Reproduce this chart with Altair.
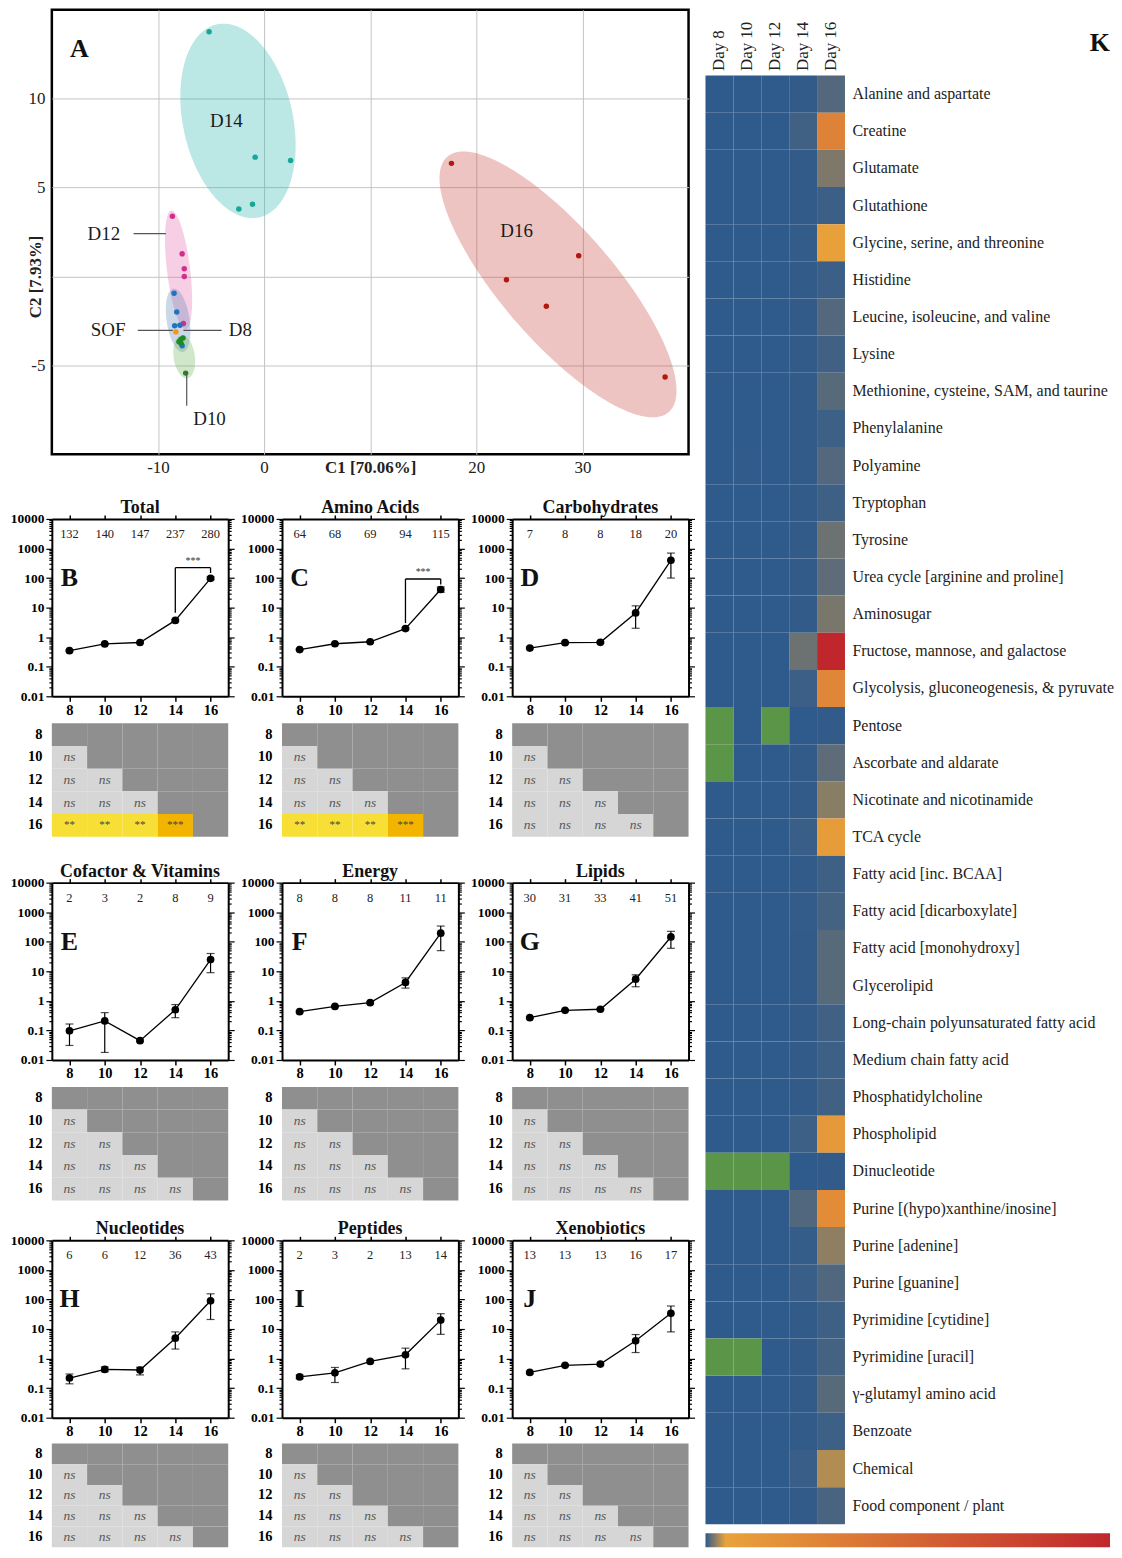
import altair as alt
import numpy as np
import pandas as pd

SERIF = "Liberation Serif"

# ---------------- Panel A : PCA scores ----------------
D16_x = [17.66, 29.65, 22.84, 26.60, 37.79]
D16_y = [6.36, 1.16, -0.19, -1.68, -5.66]
D14_x = [-5.18, -0.84, 2.50, -2.38, -1.09]
D14_y = [13.76, 6.71, 6.52, 3.79, 4.06]
D12_x = [-8.64, -7.72, -7.52, -7.52, -7.60]
D12_y = [3.38, 1.27, 0.43, 0.00, -2.65]
D8_x = [-8.48, -8.23, -8.43, -7.93, -7.72]
D8_y = [-0.95, -2.00, -2.77, -2.75, -3.90]
D10_x = [-7.85, -7.64, -8.02, -7.81, -7.39]
D10_y = [-3.55, -3.46, -3.68, -3.78, -5.44]
SOF_x = [-8.31]
SOF_y = [-3.12]

PT_GROUPS = ["D16", "D14", "D12", "D8", "D10", "SOF"]
PT_X = [D16_x, D14_x, D12_x, D8_x, D10_x, SOF_x]
PT_Y = [D16_y, D14_y, D12_y, D8_y, D10_y, SOF_y]
PT_COLORS = ["#b3170f", "#17a69a", "#d02f8c", "#1f74c2", "#1e8a26", "#f4961a"]

# confidence ellipses: centre, half-axis vector a, half-axis vector b
ELL_GROUPS = ["D16", "D14", "D12", "D8", "D10"]
ELL_CX = [27.7, -2.46, -8.06, -8.10, -7.52]
ELL_CY = [-0.45, 8.75, 0.37, -2.47, -4.52]
ELL_AX = [10.0, 1.67, 0.67, 0.42, 0.25]
ELL_AY = [-7.35, -5.46, -3.33, -1.78, -1.21]
ELL_BX = [4.97, 5.17, 1.09, 1.08, 1.00]
ELL_BY = [1.376, 0.32, 0.04, 0.05, 0.04]
ELL_COLORS = ["#c8473d", "#2ab5ad", "#e26aaf", "#5e86b3", "#71b457"]

LAB_TEXT = ["D14", "D16", "D12", "SOF", "D8", "D10"]
LAB_X = [-3.55, 23.8, -15.1, -14.7, -2.24, -5.14]
LAB_Y = [8.74, 2.58, 2.41, -3.03, -3.03, -8.0]

LEAD_X = [-12.3, -11.9, -7.6, -7.29]
LEAD_X2 = [-9.25, -8.6, -4.0, -7.29]
LEAD_Y = [2.41, -3.03, -3.03, -5.38]
LEAD_Y2 = [2.41, -3.03, -3.03, -7.28]

A_POS = [-17.4, 12.8]

# ---------------- Panels B-J ----------------
DAYS = [8, 10, 12, 14, 16]
LP_TITLES = ["Total", "Amino Acids", "Carbohydrates", "Cofactor & Vitamins", "Energy",
             "Lipids", "Nucleotides", "Peptides", "Xenobiotics"]
LP_LETTERS = ["B", "C", "D", "E", "F", "G", "H", "I", "J"]
LP_COUNTS = [
    [132, 140, 147, 237, 280],
    [64, 68, 69, 94, 115],
    [7, 8, 8, 18, 20],
    [2, 3, 2, 8, 9],
    [8, 8, 8, 11, 11],
    [30, 31, 33, 41, 51],
    [6, 6, 12, 36, 43],
    [2, 3, 2, 13, 14],
    [13, 13, 13, 16, 17],
]
LP_MEAN = [
    [0.35, 0.59, 0.66, 3.7, 98],
    [0.38, 0.60, 0.70, 1.95, 41],
    [0.43, 0.65, 0.67, 6.6, 400],
    [0.097, 0.21, 0.045, 0.50, 25],
    [0.43, 0.65, 0.87, 4.2, 195],
    [0.27, 0.48, 0.52, 5.4, 145],
    [0.22, 0.43, 0.41, 4.9, 90],
    [0.24, 0.33, 0.80, 1.34, 20],
    [0.34, 0.59, 0.65, 4.0, 34],
]
LP_LO = [
    [0.33, 0.56, 0.62, 3.4, 88],
    [0.36, 0.57, 0.66, 1.8, 33],
    [0.40, 0.60, 0.62, 2.0, 100],
    [0.031, 0.018, 0.042, 0.27, 9],
    [0.40, 0.60, 0.80, 2.7, 50],
    [0.25, 0.45, 0.49, 3.0, 60],
    [0.14, 0.36, 0.28, 2.1, 21],
    [0.21, 0.155, 0.72, 0.45, 6.6],
    [0.31, 0.55, 0.60, 1.6, 8],
]
LP_HI = [
    [0.37, 0.62, 0.70, 4.0, 110],
    [0.40, 0.63, 0.74, 2.1, 50],
    [0.46, 0.70, 0.72, 11.5, 700],
    [0.165, 0.40, 0.048, 0.75, 40],
    [0.46, 0.70, 0.94, 6.0, 340],
    [0.29, 0.51, 0.55, 7.6, 225],
    [0.30, 0.52, 0.51, 8.0, 155],
    [0.28, 0.50, 0.88, 2.25, 33],
    [0.37, 0.63, 0.70, 6.5, 60],
]
# significance brackets (panels B and C)
BRACKETS = {
    0: {"x": [14, 14, 16], "x2": [14, 16, 16], "y": [6.7, 224, 224], "y2": [224, 224, 148], "star": [15, 224]},
    1: {"x": [14, 14, 16], "x2": [14, 16, 16], "y": [3.0, 93, 93], "y2": [93, 93, 60], "star": [15, 93]},
}
LETTER_POS = [8, 100]

MAJOR = [0.01, 0.1, 1, 10, 100, 1000, 10000]
MINOR_MULT = [1, 2, 3, 4, 5, 6, 7, 8, 9]
Y_TICKS = sorted(set([m * d for d in MAJOR[:-1] for m in MINOR_MULT] + [10000]))
MAJOR_TEST = "indexof([0.01,0.1,1,10,100,1000,10000], datum.value) >= 0"

# pairwise tables
TABLE_ROWS = ["8", "10", "12", "14", "16"]
TABLE_SIG = {0: ["**", "**", "**", "***"], 1: ["**", "**", "**", "***"]}
TABLE_STATUS = ["dark", "ns", "s2", "s3"]
TABLE_COLORS = ["#8f8f8f", "#d6d6d6", "#f8df35", "#f3b400"]

# ---------------- Panel K : heatmap ----------------
HM_DAYS = ["Day 8", "Day 10", "Day 12", "Day 14", "Day 16"]
HM_ROWS = [
    "Alanine and aspartate", "Creatine", "Glutamate", "Glutathione",
    "Glycine, serine, and threonine", "Histidine", "Leucine, isoleucine, and valine",
    "Lysine", "Methionine, cysteine, SAM, and taurine", "Phenylalanine", "Polyamine",
    "Tryptophan", "Tyrosine", "Urea cycle [arginine and proline]", "Aminosugar",
    "Fructose, mannose, and galactose", "Glycolysis, gluconeogenesis, & pyruvate",
    "Pentose", "Ascorbate and aldarate", "Nicotinate and nicotinamide", "TCA cycle",
    "Fatty acid [inc. BCAA]", "Fatty acid [dicarboxylate]", "Fatty acid [monohydroxy]",
    "Glycerolipid", "Long-chain polyunsaturated fatty acid", "Medium chain fatty acid",
    "Phosphatidylcholine", "Phospholipid", "Dinucleotide",
    "Purine [(hypo)xanthine/inosine]", "Purine [adenine]", "Purine [guanine]",
    "Pyrimidine [cytidine]", "Pyrimidine [uracil]", "γ-glutamyl amino acid",
    "Benzoate", "Chemical", "Food component / plant",
]
NA = None
HM_D8 = [0, 0, 0, 0, 0, 0, 0, 0, 0, 0, 0, 0, 0, 0, 0, 0, 0, NA, NA, 0, 0, 0, 0, 0, 0, 0, 0, 0, 0, NA,
         0, 0, 0, 0, NA, 0, 0, 0, 0]
HM_D10 = [0, 0, 0, 0, 0, 0, 0, 0, 0, 0, 0.05, 0, 0, 0, 0, 0, 0, 0, 0, 0, 0, 0, 0, 0, 0, 0, 0, 0, 0, NA,
          0, 0, 0, 0, NA, 0, 0, 0, 0]
HM_D12 = [0, 0, 0, 0, 0, 0, 0, 0, 0, 0, 0, 0, 0, 0, 0, 0, 0, NA, 0, 0, 0, 0, 0, 0, 0, 0, 0, 0, 0, NA,
          0, 0, 0, 0, 0, 0, 0, 0, 0]
HM_D14 = [0.1, 0.5, 0.1, 0.1, 0.15, 0.1, 0.1, 0.1, 0.1, 0.1, 0.1, 0.1, 0.1, 0.1, 0.1, 1.65, 0.35, 0.0,
          0.1, 0.1, 0.3, 0.1, 0.15, 0.1, 0.1, 0.1, 0.1, 0.1, 0.4, 0.0, 0.9, 0.2, 0.3, 0.1, 0.1, 0.1,
          0.1, 0.3, 0.1]
HM_D16 = [1.0, 30, 2.1, 0.35, 6.5, 0.35, 1.0, 0.5, 1.1, 0.4, 1.0, 0.45, 1.65, 1.25, 2.0, 100, 27, 0.1,
          1.25, 2.4, 10, 0.45, 0.6, 1.1, 1.1, 0.5, 0.4, 0.5, 12, 0.1, 22, 2.6, 0.9, 0.45, 0.6, 1.1,
          0.4, 3.5, 0.7]
HM_DOMAIN = [0, 5, 100]
HM_RANGE = ["#2e5a8c", "#e9a23b", "#c0272d"]
HM_NA_COLOR = "#5b9548"

# =====================================================================
# Panel A
px_scale = alt.Scale(domain=[-20, 40], nice=False, zero=False)
py_scale = alt.Scale(domain=[-10, 15], nice=False, zero=False)
pca_xaxis = alt.Axis(values=[-10, 0, 10, 20, 30], grid=True, gridColor="#c4c4c4", gridWidth=1,
                     ticks=False, domain=False, labelFont=SERIF, labelFontSize=17, labelColor="#222",
                     labelPadding=5, labelOverlap=False,
                     labelExpr="datum.value == 10 ? '' : toString(datum.value)",
                     title="C1 [70.06%]", titleFont=SERIF, titleFontSize=17, titleFontWeight="bold",
                     titleColor="#222", titleX=319.5, titleY=5, titleAlign="center",
                     titleBaseline="top")
pca_yaxis = alt.Axis(values=[-5, 0, 5, 10], grid=True, gridColor="#c4c4c4", gridWidth=1,
                     ticks=False, domain=False, labelFont=SERIF, labelFontSize=17, labelColor="#222",
                     labelPadding=7, labelOverlap=False,
                     labelExpr="datum.value == 0 ? '' : toString(datum.value)",
                     title="C2 [7.93%]", titleFont=SERIF, titleFontSize=17, titleFontWeight="bold",
                     titleColor="#222", titleAngle=270, titleX=-7, titleY=267.6,
                     titleAlign="center", titleBaseline="bottom")


def PX(f):
    return alt.X(f, type="quantitative", scale=px_scale, axis=pca_xaxis)


def PY(f):
    return alt.Y(f, type="quantitative", scale=py_scale, axis=pca_yaxis)


pca_layers = []
for i, g in enumerate(ELL_GROUPS):
    cx, cy, ax_, ay_, bx_, by_ = ELL_CX[i], ELL_CY[i], ELL_AX[i], ELL_AY[i], ELL_BX[i], ELL_BY[i]
    t0 = np.arctan2(bx_, ax_)
    R = np.hypot(ax_, bx_)
    s = np.linspace(0, np.pi, 181)
    edf = pd.DataFrame({
        "x": cx + R * np.cos(s),
        "y1": cy + ay_ * np.cos(t0 + s) + by_ * np.sin(t0 + s),
        "y2": cy + ay_ * np.cos(t0 - s) + by_ * np.sin(t0 - s),
    })
    pca_layers.append(
        alt.Chart(edf).mark_area(color=ELL_COLORS[i], opacity=0.32, orient="vertical")
        .encode(x=PX("x"), y=PY("y1"), y2=alt.Y2("y2"))
    )
for i, g in enumerate(PT_GROUPS):
    pdf = pd.DataFrame({"x": PT_X[i], "y": PT_Y[i]})
    pca_layers.append(
        alt.Chart(pdf).mark_circle(size=30, opacity=1, color=PT_COLORS[i])
        .encode(x=PX("x"), y=PY("y"))
    )
lead_df = pd.DataFrame({"x": LEAD_X, "x2": LEAD_X2, "y": LEAD_Y, "y2": LEAD_Y2})
pca_layers.append(
    alt.Chart(lead_df).mark_rule(color="#555", strokeWidth=1.2)
    .encode(x=PX("x"), x2=alt.X2("x2"), y=PY("y"), y2=alt.Y2("y2"))
)
lab_df = pd.DataFrame({"x": LAB_X, "y": LAB_Y, "t": LAB_TEXT})
pca_layers.append(
    alt.Chart(lab_df).mark_text(font=SERIF, fontSize=19, color="#1a1a1a", align="center",
                                baseline="middle")
    .encode(x=PX("x"), y=PY("y"), text="t:N")
)
a_df = pd.DataFrame({"x": [A_POS[0]], "y": [A_POS[1]], "t": ["A"]})
pca_layers.append(
    alt.Chart(a_df).mark_text(font=SERIF, fontSize=26, fontWeight="bold", color="#111",
                              align="center", baseline="middle")
    .encode(x=PX("x"), y=PY("y"), text="t:N")
)
pca = alt.layer(*pca_layers).properties(
    width=639, height=446, view=alt.ViewBackground(stroke="black", strokeWidth=2.5))


# =====================================================================
# Panels B-J
def line_chart(i):
    df = pd.DataFrame({"day": DAYS, "mean": LP_MEAN[i], "lo": LP_LO[i], "hi": LP_HI[i],
                       "n": [str(c) for c in LP_COUNTS[i]]})
    xsc = alt.Scale(domain=[7, 17], nice=False, zero=False)
    ysc = alt.Scale(type="log", domain=[0.01, 10000], nice=False)
    x_bot = alt.Axis(values=DAYS, title=None, labelFont=SERIF, labelFontSize=14.5,
                     labelFontWeight="bold", labelColor="black", labelPadding=2, tickSize=5,
                     tickWidth=1.5, tickColor="black", domainColor="black", domainWidth=2,
                     grid=False, labelOverlap=False, orient="bottom")
    y_left = alt.Axis(values=Y_TICKS, title=None, orient="left",
                      labelExpr=MAJOR_TEST + " ? toString(datum.value) : ''",
                      tickSize={"condition": {"test": MAJOR_TEST, "value": 6}, "value": 3},
                      tickWidth=1.2, tickColor="black", domainColor="black", domainWidth=2,
                      labelFont=SERIF, labelFontSize=13.5, labelFontWeight="bold",
                      labelColor="black", labelPadding=2, grid=False, labelOverlap=False)
    x_top = alt.Axis(values=DAYS, title=None, orient="top", labels=False, tickSize=4,
                     tickWidth=1.5, tickColor="black", domainColor="black", domainWidth=2,
                     grid=False)
    y_right = alt.Axis(values=Y_TICKS, title=None, orient="right", labels=False,
                       tickSize={"condition": {"test": MAJOR_TEST, "value": 6}, "value": 3},
                       tickWidth=1.2, tickColor="black", domainColor="black", domainWidth=2,
                       grid=False)
    X = alt.X("day:Q", scale=xsc, axis=x_bot)

    def Y(f):
        return alt.Y(f, type="quantitative", scale=ysc, axis=y_left)

    base = alt.Chart(df)
    layers = [
        base.mark_rule(color="black", strokeWidth=1.2).encode(x=X, y=Y("lo"), y2=alt.Y2("hi")),
        base.mark_tick(orient="horizontal", size=8, thickness=1.2, color="black")
        .encode(x=X, y=Y("lo")),
        base.mark_tick(orient="horizontal", size=8, thickness=1.2, color="black")
        .encode(x=X, y=Y("hi")),
        base.mark_line(color="black", strokeWidth=1.3).encode(x=X, y=Y("mean")),
        base.mark_circle(size=60, color="black", opacity=1).encode(x=X, y=Y("mean")),
        base.mark_text(font=SERIF, fontSize=12.5, color="#222", baseline="top", dy=9)
        .encode(x=X, y=alt.datum(10000), text="n:N"),
        alt.Chart(pd.DataFrame({"x": [LETTER_POS[0]], "y": [LETTER_POS[1]], "t": [LP_LETTERS[i]]}))
        .mark_text(font=SERIF, fontSize=26, fontWeight="bold", color="#111", align="center",
                   baseline="middle")
        .encode(x=alt.X("x:Q", scale=xsc, axis=x_bot), y=Y("y"), text="t:N"),
    ]
    if i in BRACKETS:
        b = BRACKETS[i]
        bdf = pd.DataFrame({"x": b["x"], "x2": b["x2"], "y": b["y"], "y2": b["y2"]})
        layers.append(alt.Chart(bdf).mark_rule(color="black", strokeWidth=1.3)
                      .encode(x=alt.X("x:Q", scale=xsc, axis=x_bot), x2=alt.X2("x2"),
                              y=Y("y"), y2=alt.Y2("y2")))
        sdf = pd.DataFrame({"x": [b["star"][0]], "y": [b["star"][1]], "t": ["***"]})
        layers.append(alt.Chart(sdf).mark_text(font=SERIF, fontSize=10, color="#333",
                                               baseline="bottom", dy=-2)
                      .encode(x=alt.X("x:Q", scale=xsc, axis=x_bot), y=Y("y"), text="t:N"))
    inner = alt.layer(*layers)
    ghost = base.mark_point(opacity=0).encode(
        x=alt.X("day:Q", scale=xsc, axis=x_top),
        y=alt.Y("mean:Q", scale=ysc, axis=y_right))
    return alt.layer(inner, ghost).resolve_scale(x="independent", y="independent").properties(
        width=177, height=178,
        title=alt.TitleParams(LP_TITLES[i], font=SERIF, fontSize=18, fontWeight="bold",
                              color="#111", offset=-5, anchor="middle", frame="group"))


def table_chart(i, h):
    recs = []
    sig = TABLE_SIG.get(i)
    for r, rl in enumerate(TABLE_ROWS):
        for c in range(5):
            if c < r:
                if r == 4 and sig is not None:
                    st = "s3" if sig[c] == "***" else "s2"
                    lab = sig[c]
                else:
                    st, lab = "ns", "ns"
            else:
                st, lab = "dark", ""
            recs.append({"row": rl, "col": c, "status": st, "lab": lab})
    df = pd.DataFrame(recs)
    X = alt.X("col:O", scale=alt.Scale(paddingInner=0, paddingOuter=0), axis=None)
    Y = alt.Y("row:N", sort=TABLE_ROWS, scale=alt.Scale(paddingInner=0, paddingOuter=0),
              axis=alt.Axis(title=None, ticks=False, domain=False, labelFont=SERIF,
                            labelFontSize=14.5, labelFontWeight="bold", labelColor="black",
                            labelPadding=10))
    base = alt.Chart(df)
    rect = base.mark_rect().encode(
        x=X, y=Y,
        color=alt.Color("status:N", scale=alt.Scale(domain=TABLE_STATUS, range=TABLE_COLORS),
                        legend=None))
    ns = base.transform_filter(alt.datum.status == "ns").mark_text(
        font=SERIF, fontSize=13.5, fontStyle="italic", color="#555").encode(x=X, y=Y, text="lab:N")
    stars = base.transform_filter("datum.status == 's2' || datum.status == 's3'").mark_text(
        font=SERIF, fontSize=11, color="#444").encode(x=X, y=Y, text="lab:N")
    return alt.layer(rect, ns, stars).properties(width=177, height=h)


TABLE_H = [114, 114, 114, 114, 114, 114, 104, 104, 104]
TABLE_GAP = [27, 27, 27, 27, 27, 27, 26, 26, 26]
panels = [alt.vconcat(line_chart(i), table_chart(i, TABLE_H[i]), spacing=TABLE_GAP[i],
                      bounds="flush")
          for i in range(9)]
row1 = alt.hconcat(*panels[0:3], spacing=5, bounds="full")
row2 = alt.hconcat(*panels[3:6], spacing=5, bounds="full")
row3 = alt.hconcat(*panels[6:9], spacing=5, bounds="full")
rows23 = alt.vconcat(row2, row3, spacing=20, bounds="full")
rows = alt.vconcat(row1, rows23, spacing=26, bounds="full")
left = alt.vconcat(pca, rows, spacing=65, bounds="flush")

# =====================================================================
# Panel K
hm_vals = []
hm_na = []
for d, col in zip(HM_DAYS, [HM_D8, HM_D10, HM_D12, HM_D14, HM_D16]):
    for rname, v in zip(HM_ROWS, col):
        if v is None:
            hm_na.append({"day": d, "row": rname})
        else:
            hm_vals.append({"day": d, "row": rname, "v": v})
hm_vals = pd.DataFrame(hm_vals)
hm_na = pd.DataFrame(hm_na)

HX = alt.X("day:N", sort=HM_DAYS, scale=alt.Scale(paddingInner=0, paddingOuter=0),
           axis=alt.Axis(orient="top", title=None, labelAngle=270, labelAlign="left",
                         labelBaseline="middle", labelPadding=5, ticks=False, domain=False,
                         labelFont=SERIF, labelFontSize=17, labelColor="#222"))
HY = alt.Y("row:N", sort=HM_ROWS, scale=alt.Scale(paddingInner=0, paddingOuter=0),
           axis=alt.Axis(orient="right", title=None, ticks=False, domain=False, labelFont=SERIF,
                         labelFontSize=16, labelColor="#222", labelPadding=7, labelLimit=400))
heat_vals = alt.Chart(hm_vals).mark_rect().encode(
    x=HX, y=HY,
    color=alt.Color("v:Q", scale=alt.Scale(domain=HM_DOMAIN, range=HM_RANGE, interpolate="rgb"),
                    legend=alt.Legend(orient="none", legendX=0, legendY=1463,
                                      direction="horizontal", gradientLength=406,
                                      gradientThickness=14, labelOpacity=0, labelFontSize=1,
                                      labelOffset=0, title=None, gradientStrokeWidth=0)))
heat_na = alt.Chart(hm_na).mark_rect(color=HM_NA_COLOR).encode(x=HX, y=HY)
heat = alt.layer(heat_vals, heat_na).properties(width=140, height=1454)

spacer = alt.Chart(pd.DataFrame({"k": [""]})).mark_text(opacity=0).encode(text="k:N").properties(
    width=406, height=16,
    title=alt.TitleParams("K", orient="bottom", anchor="end", font=SERIF, fontSize=26,
                          fontWeight="bold", color="#111", offset=4, frame="group"))
right = alt.vconcat(spacer, heat, spacing=50, bounds="flush").resolve_scale(color="independent")

chart = alt.hconcat(left, right, spacing=10, bounds="full").resolve_scale(
    color="independent").properties(
    padding={"left": 2, "top": -3, "right": 0, "bottom": 0}).configure(
    font=SERIF).configure_view(strokeWidth=0)

chart.save("out.html", embed_options={"renderer": "svg", "actions": False})
